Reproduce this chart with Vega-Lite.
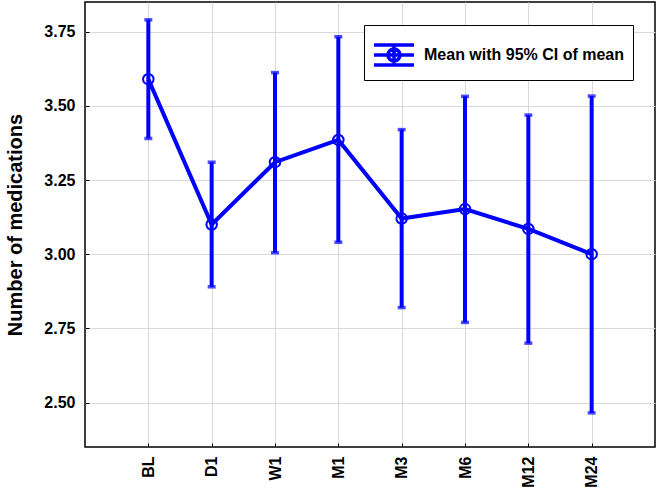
{
  "$schema": "https://vega.github.io/schema/vega-lite/v6.json",
  "width": 570,
  "height": 445,
  "autosize": {"type": "none"},
  "padding": {"left": 85, "top": 2, "right": 2, "bottom": 43},
  "background": "white",
  "config": {
    "view": {"stroke": "#000000", "strokeWidth": 1.5},
    "font": "Liberation Sans",
    "axis": {
      "labelFont": "Liberation Sans",
      "labelFontWeight": "bold",
      "labelFontSize": 16,
      "labelColor": "#000000",
      "titleFont": "Liberation Sans",
      "titleFontWeight": "bold",
      "titleColor": "#000000",
      "gridColor": "#d9d9d9",
      "gridWidth": 1,
      "gridOpacity": 1,
      "domain": false,
      "tickColor": "#000000",
      "tickSize": -4,
      "tickWidth": 1
    }
  },
  "data": {
    "values": [
      {"time": "BL", "mean": 3.59, "lo": 3.39, "hi": 3.79, "series": "Mean with 95% CI of mean"},
      {"time": "D1", "mean": 3.10, "lo": 2.89, "hi": 3.31, "series": "Mean with 95% CI of mean"},
      {"time": "W1", "mean": 3.31, "lo": 3.005, "hi": 3.612, "series": "Mean with 95% CI of mean"},
      {"time": "M1", "mean": 3.385, "lo": 3.04, "hi": 3.733, "series": "Mean with 95% CI of mean"},
      {"time": "M3", "mean": 3.12, "lo": 2.82, "hi": 3.42, "series": "Mean with 95% CI of mean"},
      {"time": "M6", "mean": 3.152, "lo": 2.77, "hi": 3.532, "series": "Mean with 95% CI of mean"},
      {"time": "M12", "mean": 3.085, "lo": 2.70, "hi": 3.469, "series": "Mean with 95% CI of mean"},
      {"time": "M24", "mean": 3.00, "lo": 2.465, "hi": 3.533, "series": "Mean with 95% CI of mean"}
    ]
  },
  "encoding": {
    "x": {
      "field": "time",
      "type": "ordinal",
      "scale": {"type": "point", "padding": 1, "domain": ["BL", "D1", "W1", "M1", "M3", "M6", "M12", "M24"]},
      "axis": {"title": null, "labelAngle": -90, "labelPadding": 13, "grid": true}
    }
  },
  "layer": [
    {
      "mark": {"type": "rule", "color": "#0000ff", "strokeWidth": 4},
      "encoding": {
        "y": {
          "field": "lo",
          "type": "quantitative",
          "scale": {"domain": [2.35, 3.85], "nice": false, "zero": false},
          "axis": {
            "title": "Number of medications",
            "titleFontSize": 20,
            "titlePadding": 18,
            "values": [2.5, 2.75, 3.0, 3.25, 3.5, 3.75],
            "format": ".2f",
            "labelPadding": 14,
            "grid": true
          }
        },
        "y2": {"field": "hi"}
      }
    },
    {
      "mark": {"type": "tick", "color": "#0000ff", "size": 8, "thickness": 3.5, "orient": "horizontal"},
      "encoding": {"y": {"field": "lo", "type": "quantitative"}}
    },
    {
      "mark": {"type": "tick", "color": "#0000ff", "size": 8, "thickness": 3.5, "orient": "horizontal"},
      "encoding": {"y": {"field": "hi", "type": "quantitative"}}
    },
    {
      "mark": {"type": "line", "strokeWidth": 4},
      "encoding": {
        "y": {"field": "mean", "type": "quantitative"},
        "color": {
          "field": "series",
          "type": "nominal",
          "scale": {"range": ["#0000ff"]},
          "legend": {
            "title": null,
            "orient": "none",
            "legendX": 279,
            "legendY": 23,
            "direction": "vertical",
            "strokeColor": "#000000",
            "fillColor": "#ffffff",
            "padding": 8,
            "symbolType": "M-1,-0.5H1M-1,0H1M-1,0.5H1M0,-0.5V0.5M-0.3,0A0.3,0.3 0 1,1 0.3,0A0.3,0.3 0 1,1 -0.3,0",
            "symbolSize": 1600,
            "symbolStrokeWidth": 3.5,
            "symbolStrokeColor": "#0000ff",
            "symbolOpacity": 1,
            "labelFont": "Liberation Sans",
            "labelFontWeight": "bold",
            "labelFontSize": 16,
            "labelColor": "#000000",
            "labelOffset": 8,
            "labelLimit": 0,
            "encode": {"symbols": {"update": {"fill": {"value": "transparent"}, "strokeWidth": {"value": 3.5}}}}
          }
        }
      }
    },
    {
      "mark": {"type": "point", "shape": "circle", "filled": false, "size": 110, "strokeWidth": 2, "color": "#0000ff", "opacity": 1},
      "encoding": {"y": {"field": "mean", "type": "quantitative"}}
    }
  ]
}
